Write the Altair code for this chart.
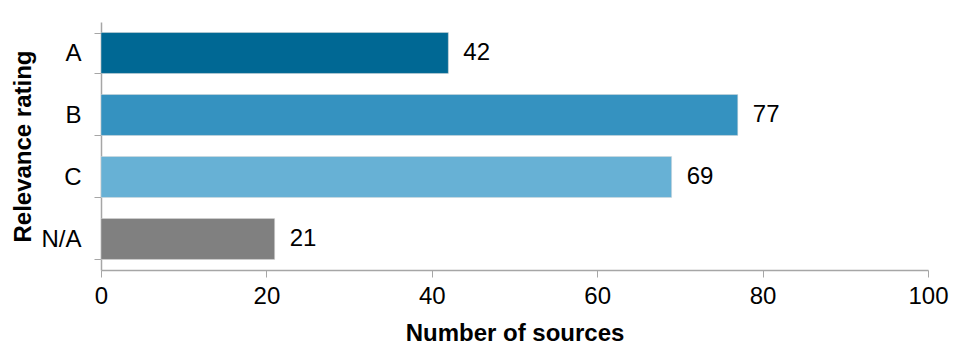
import altair as alt
import pandas as pd

categories = ["A", "B", "C", "N/A"]
values = [42, 77, 69, 21]
colors = ["#006894", "#3592c0", "#67b1d5", "#808080"]

df = pd.DataFrame({"rating": categories, "count": values, "color": colors})

FONT = "Liberation Sans"
AX = "#a6a6a6"
FS = 24

base = alt.Chart(df)

bars = base.mark_bar(strokeWidth=1, stroke="#d9d9d9", strokeOpacity=0.5).encode(
    y=alt.Y(
        "rating:N",
        sort=categories,
        scale=alt.Scale(paddingInner=0.34, paddingOuter=0.17),
        axis=alt.Axis(
            title="Relevance rating",
            titleFont=FONT,
            titleFontSize=FS,
            titleFontWeight="bold",
            titleColor="#000000",
            titlePadding=5,
            labelFont=FONT,
            labelFontSize=FS,
            labelColor="#000000",
            labelPadding=13,
            tickBand="extent",
            tickSize=7,
            tickColor=AX,
            domainColor=AX,
            domainWidth=1.5,
            grid=False,
        ),
    ),
    x=alt.X(
        "count:Q",
        scale=alt.Scale(domain=[0, 100], nice=False),
        axis=alt.Axis(
            title="Number of sources",
            values=[0, 20, 40, 60, 80, 100],
            titleFont=FONT,
            titleFontSize=FS,
            titleFontWeight="bold",
            titleColor="#000000",
            titlePadding=13,
            labelFont=FONT,
            labelFontSize=FS,
            labelColor="#000000",
            labelPadding=7,
            labelFlush=False,
            tickSize=7,
            tickColor=AX,
            domainColor=AX,
            domainWidth=1.5,
            grid=False,
        ),
    ),
    color=alt.Color("color:N", scale=None, legend=None),
)

labels = base.mark_text(align="left", baseline="middle", dx=15, font=FONT, fontSize=FS, color="#000000").encode(
    y=alt.Y("rating:N", sort=categories),
    x="count:Q",
    text="count:Q",
)

chart = (
    (bars + labels)
    .properties(
        width=941,
        height=337,
        padding={"left": 3, "top": 2, "right": 0, "bottom": 0},
        autosize=alt.AutoSizeParams(type="fit", contains="padding"),
    )
    .configure_view(stroke=None)
)

chart.save("out.html", embed_options={"renderer": "svg", "actions": False})
